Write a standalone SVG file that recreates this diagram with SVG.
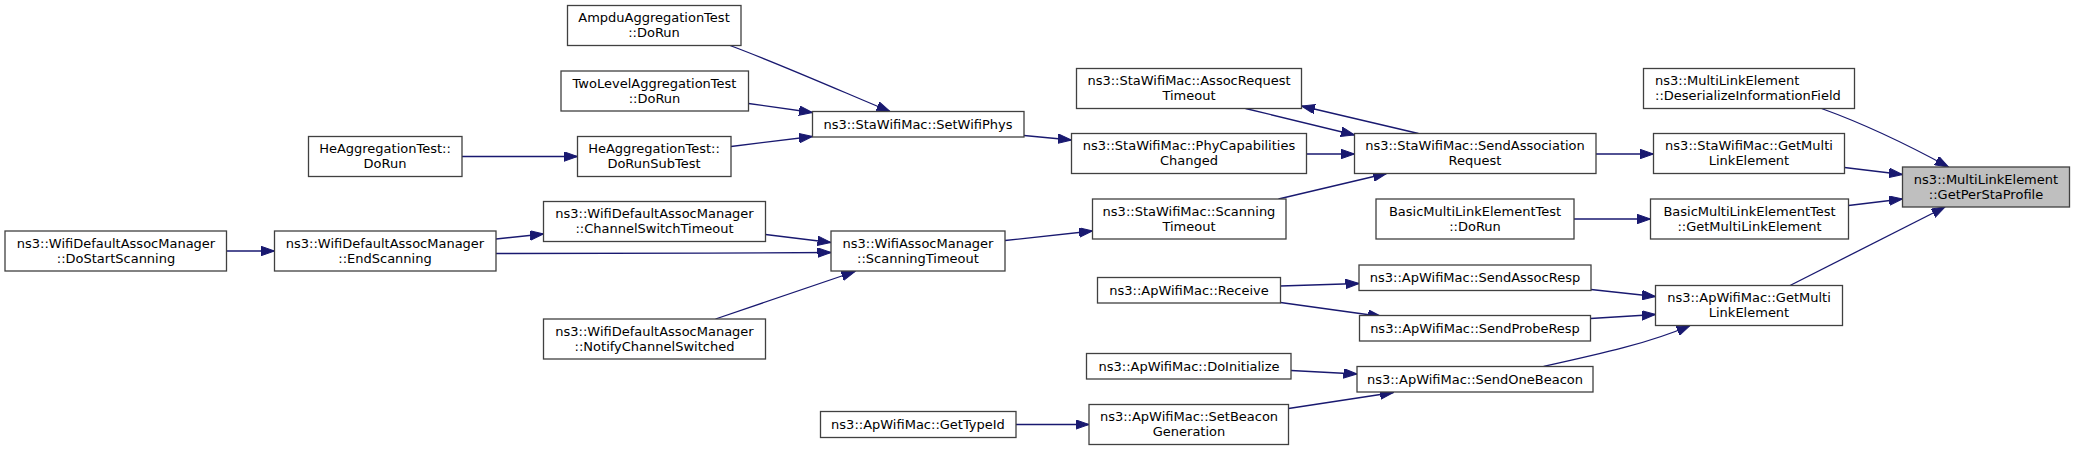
<svg xmlns="http://www.w3.org/2000/svg" width="2075" height="451" viewBox="0 0 2075 451">
<style>
.n rect{fill:#fff;stroke:#404040;stroke-width:1.3}
.n.hl rect{fill:#bfbfbf}
.n text{font-family:"DejaVu Sans",sans-serif;font-size:13px;fill:#000;text-anchor:middle}
.n text.l{text-anchor:start}
#edges path{fill:none;stroke:#191970;stroke-width:1.3;marker-end:url(#ah)}
</style>
<defs>
<marker id="ah" markerUnits="userSpaceOnUse" markerWidth="14" markerHeight="10" refX="13.5" refY="4.75" orient="auto">
<path d="M0,0 L13.5,4.75 L0,9.5 z" fill="#191970" stroke="#191970" stroke-width="1"/>
</marker>
</defs>
<rect width="2075" height="451" fill="#fff"/>
<g id="edges">
<path d="M226.5,251 L274.5,251"/>
<path d="M496,239 L543.5,234"/>
<path d="M496,253.5 C600,254 720,253 831,252.5"/>
<path d="M765.5,234.5 L831,242.5"/>
<path d="M715.5,319 L855,271.5"/>
<path d="M462,156.5 L577.5,156.5"/>
<path d="M730,45.5 C780,64 850,95 890,111.5"/>
<path d="M748.5,103.5 L812.5,112.5"/>
<path d="M731,146.5 L812.5,136.5"/>
<path d="M1024,135.5 L1071.5,140"/>
<path d="M1245.5,108.5 L1354.5,135"/>
<path d="M1418.5,133.5 L1301.5,106"/>
<path d="M1306.5,154 L1354.5,154"/>
<path d="M1278.5,199 L1386.5,173.5"/>
<path d="M1005,240.5 L1092.5,231"/>
<path d="M1596,154 L1653.5,154"/>
<path d="M1574,219 L1650.5,219"/>
<path d="M1280.5,286 L1359,283.5"/>
<path d="M1280.5,302.5 L1381.5,316.5"/>
<path d="M1291,370.5 L1357,374"/>
<path d="M1288.5,408.5 L1393.5,392.5"/>
<path d="M1016,424.5 L1089,424.5"/>
<path d="M1591,289.5 L1655.5,296.5"/>
<path d="M1590.5,318.5 L1655.5,314.5"/>
<path d="M1543.5,366.5 C1600,354 1650,343 1690,325.5"/>
<path d="M1821.5,108.5 C1870,126 1910,146 1948.5,167"/>
<path d="M1844.5,167.5 L1902.5,174.5"/>
<path d="M1848.5,205.5 L1902.5,199"/>
<path d="M1790,285.5 C1850,255 1900,230 1945,207"/>
</g>
<g id="n1" class="n"><rect x="308.5" y="136.5" width="153.5" height="40"/><text x="385" y="153">HeAggregationTest::</text><text x="385" y="168">DoRun</text></g>
<g id="n2" class="n"><rect x="5" y="231" width="221.5" height="40"/><text x="116" y="247.5">ns3::WifiDefaultAssocManager</text><text x="116" y="262.5">::DoStartScanning</text></g>
<g id="n3" class="n"><rect x="274.5" y="231" width="221.5" height="40"/><text x="385" y="247.5">ns3::WifiDefaultAssocManager</text><text x="385" y="262.5">::EndScanning</text></g>
<g id="n4" class="n"><rect x="567.5" y="5.5" width="173.5" height="40"/><text x="654" y="22">AmpduAggregationTest</text><text x="654" y="37">::DoRun</text></g>
<g id="n5" class="n"><rect x="561" y="71" width="187.5" height="40"/><text x="654.5" y="87.5">TwoLevelAggregationTest</text><text x="654.5" y="102.5">::DoRun</text></g>
<g id="n6" class="n"><rect x="577.5" y="136.5" width="153.5" height="40"/><text x="654" y="153">HeAggregationTest::</text><text x="654" y="168">DoRunSubTest</text></g>
<g id="n7" class="n"><rect x="543.5" y="201.5" width="222" height="40"/><text x="654.5" y="218">ns3::WifiDefaultAssocManager</text><text x="654.5" y="233">::ChannelSwitchTimeout</text></g>
<g id="n8" class="n"><rect x="543.5" y="319" width="222" height="40"/><text x="654.5" y="335.5">ns3::WifiDefaultAssocManager</text><text x="654.5" y="350.5">::NotifyChannelSwitched</text></g>
<g id="n9" class="n"><rect x="812.5" y="111.5" width="211.5" height="25.5"/><text x="918" y="128.5">ns3::StaWifiMac::SetWifiPhys</text></g>
<g id="n10" class="n"><rect x="831" y="231" width="174" height="40"/><text x="918" y="247.5">ns3::WifiAssocManager</text><text x="918" y="262.5">::ScanningTimeout</text></g>
<g id="n11" class="n"><rect x="820.5" y="411.5" width="195.5" height="26"/><text x="918" y="428.5">ns3::ApWifiMac::GetTypeId</text></g>
<g id="n12" class="n"><rect x="1076.5" y="68.5" width="225" height="40"/><text x="1189" y="85">ns3::StaWifiMac::AssocRequest</text><text x="1189" y="100">Timeout</text></g>
<g id="n13" class="n"><rect x="1071.5" y="133.5" width="235" height="40"/><text x="1189" y="150">ns3::StaWifiMac::PhyCapabilities</text><text x="1189" y="165">Changed</text></g>
<g id="n14" class="n"><rect x="1092.5" y="199" width="193.5" height="40"/><text x="1189" y="215.5">ns3::StaWifiMac::Scanning</text><text x="1189" y="230.5">Timeout</text></g>
<g id="n15" class="n"><rect x="1097.5" y="277.5" width="183" height="25.5"/><text x="1189" y="294.5">ns3::ApWifiMac::Receive</text></g>
<g id="n16" class="n"><rect x="1086.5" y="353.5" width="204.5" height="25.5"/><text x="1189" y="370.5">ns3::ApWifiMac::DoInitialize</text></g>
<g id="n17" class="n"><rect x="1089" y="404.5" width="199.5" height="40"/><text x="1189" y="421">ns3::ApWifiMac::SetBeacon</text><text x="1189" y="436">Generation</text></g>
<g id="n18" class="n"><rect x="1354.5" y="133.5" width="241.5" height="40"/><text x="1475" y="150">ns3::StaWifiMac::SendAssociation</text><text x="1475" y="165">Request</text></g>
<g id="n19" class="n"><rect x="1376" y="199" width="198" height="40"/><text x="1475" y="215.5">BasicMultiLinkElementTest</text><text x="1475" y="230.5">::DoRun</text></g>
<g id="n20" class="n"><rect x="1359" y="265" width="232" height="25.5"/><text x="1475" y="282">ns3::ApWifiMac::SendAssocResp</text></g>
<g id="n21" class="n"><rect x="1359.5" y="315.5" width="231" height="25.5"/><text x="1475" y="332.5">ns3::ApWifiMac::SendProbeResp</text></g>
<g id="n22" class="n"><rect x="1357" y="366.5" width="236" height="25.5"/><text x="1475" y="383.5">ns3::ApWifiMac::SendOneBeacon</text></g>
<g id="n23" class="n"><rect x="1643.5" y="68.5" width="211" height="40"/><text class="l" x="1655" y="85">ns3::MultiLinkElement</text><text class="l" x="1655" y="100">::DeserializeInformationField</text></g>
<g id="n24" class="n"><rect x="1653.5" y="133.5" width="191" height="40"/><text x="1749" y="150">ns3::StaWifiMac::GetMulti</text><text x="1749" y="165">LinkElement</text></g>
<g id="n25" class="n"><rect x="1650.5" y="199" width="198" height="40"/><text x="1749.5" y="215.5">BasicMultiLinkElementTest</text><text x="1749.5" y="230.5">::GetMultiLinkElement</text></g>
<g id="n26" class="n"><rect x="1655.5" y="285.5" width="187" height="40"/><text x="1749" y="302">ns3::ApWifiMac::GetMulti</text><text x="1749" y="317">LinkElement</text></g>
<g id="n27" class="n hl"><rect x="1902.5" y="167" width="167" height="40"/><text x="1986" y="183.5">ns3::MultiLinkElement</text><text x="1986" y="198.5">::GetPerStaProfile</text></g>
</svg>
